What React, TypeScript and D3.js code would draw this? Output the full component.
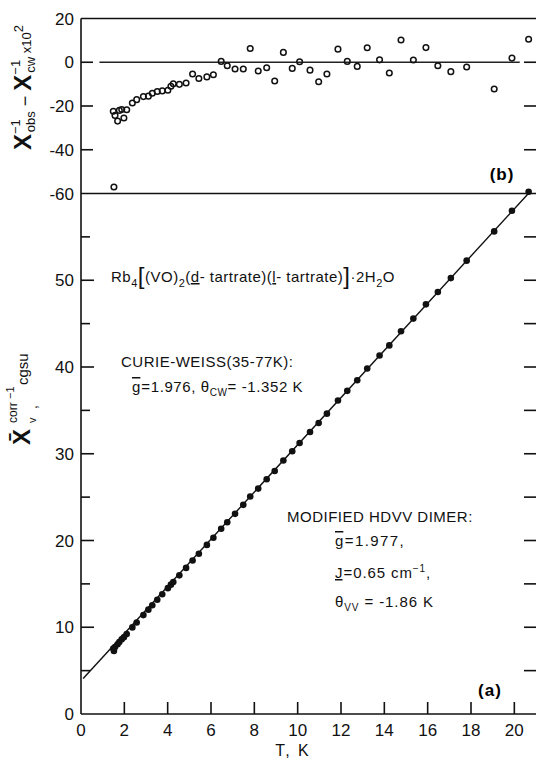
import * as d3 from "d3";

// temperature of each measurement (K)
const tempK = [1.49, 1.52, 1.57, 1.69, 1.77, 1.88, 1.98, 2.11, 2.37, 2.57, 2.88, 3.11, 3.29, 3.52, 3.75, 4.01, 4.15, 4.26, 4.54, 4.85, 5.15, 5.44, 5.81, 6.11, 6.47, 6.75, 7.11, 7.49, 7.81, 8.18, 8.57, 8.94, 9.34, 9.75, 10.09, 10.57, 10.97, 11.35, 11.86, 12.29, 12.75, 13.21, 13.78, 14.23, 14.77, 15.34, 15.92, 16.47, 17.07, 17.8, 19.07, 19.89, 20.66];
// (b) residuals, x 10^2
const residual = [-22.4, -57, -24.3, -26.9, -22, -21.6, -25.5, -21.7, -18.6, -17.1, -15.7, -15.5, -14.2, -13.4, -13.1, -12.8, -11, -9.8, -10.1, -9.5, -5.4, -7.4, -6.7, -5.7, 0.4, -1.6, -3.1, -3.1, 6.3, -4, -2.5, -8.6, 4.5, -2.8, 0.2, -3.6, -8.9, -5.4, 6, 0.4, -1.9, 6.6, 1.1, -4.9, 10.2, 1, 6.7, -1.6, -4.3, -2.2, -12.2, 1.9, 10.5];
// (a) inverse susceptibility, cgsu
const chiInv = [7.54, 7.27, 7.73, 8.04, 8.3, 8.61, 8.84, 9.23, 9.98, 10.54, 11.4, 12.03, 12.53, 13.17, 13.8, 14.51, 14.91, 15.22, 15.98, 16.84, 17.7, 18.47, 19.49, 20.31, 21.36, 22.1, 23.07, 24.11, 25.08, 25.98, 27.06, 28.01, 29.23, 30.28, 31.24, 32.51, 33.55, 34.62, 36.13, 37.25, 38.48, 39.82, 41.32, 42.49, 44.12, 45.58, 47.22, 48.64, 50.25, 52.26, 55.63, 58.01, 60.2];

// fitted line in (a)
const fitT = [0.1, 20.65];
const fitChiInv = [4.1, 60];
// zero reference line in (b)
const zeroLineT = [0.85, 20.25];

const xTicks = [0, 2, 4, 6, 8, 10, 12, 14, 16, 18, 20];
const topTicks = [20, 0, -20, -40, -60];
const topInnerTicks = [0, -20, -40];
const bottomLabels = [0, 10, 20, 30, 40, 50];
const bottomMajor = [10, 20, 30, 40, 50];
const bottomMinor = [5, 15, 25, 35, 45, 55];

const W = 536;
const H = 761;
const font = "'Liberation Sans', Arial, sans-serif";

export default function App() {
  const x = d3.scaleLinear().domain([0, 21]).range([81, 536]);
  const yTop = d3.scaleLinear().domain([-60, 20]).range([193.5, 18.5]);
  const yBot = d3.scaleLinear().domain([0, 60]).range([714, 193.5]);

  const line = d3
    .line<number>()
    .x((_, i) => x(fitT[i]))
    .y((d) => yBot(d));

  const x0 = x(0);
  const x1 = x(21);

  return (
    <svg width={W} height={H} style={{ position: "absolute", left: 0, top: 0 }} fontFamily={font}>
      <rect width={W} height={H} fill="#fff" />

      {/* frame */}
      <g stroke="#111" strokeWidth={1.6} fill="none">
        <line x1={x0} x2={x0} y1={yTop(20)} y2={yBot(0)} />
        <line x1={x0} x2={x1} y1={yTop(20)} y2={yTop(20)} />
        <line x1={x0} x2={x1} y1={yBot(60)} y2={yBot(60)} />
        <line x1={x0} x2={x1} y1={yBot(0)} y2={yBot(0)} />
      </g>

      {/* ticks */}
      <g stroke="#111" strokeWidth={1.6}>
        {topInnerTicks.map((t) => (
          <line key={`lt${t}`} x1={x0} x2={x0 + 12} y1={yTop(t)} y2={yTop(t)} />
        ))}
        {bottomMajor.map((t) => (
          <line key={`lb${t}`} x1={x0} x2={x0 + 13} y1={yBot(t)} y2={yBot(t)} />
        ))}
        {bottomMinor.map((t) => (
          <line key={`lm${t}`} x1={x0} x2={x0 + 9} y1={yBot(t)} y2={yBot(t)} />
        ))}
        {topInnerTicks.map((t) => (
          <line key={`rt${t}`} x1={x1} x2={x1 - 12} y1={yTop(t)} y2={yTop(t)} />
        ))}
        {bottomMinor.concat(bottomMajor).map((t) => (
          <line key={`rb${t}`} x1={x1} x2={x1 - 12} y1={yBot(t)} y2={yBot(t)} />
        ))}
        {xTicks.slice(1).map((t) => (
          <line key={`xb${t}`} x1={x(t)} x2={x(t)} y1={yBot(0)} y2={yBot(0) - 12} />
        ))}
      </g>

      {/* tick labels */}
      <g fontSize={17} fill="#111">
        {topTicks.map((t) => (
          <text key={`tl${t}`} x={74} y={yTop(t) + 6} textAnchor="end">
            {t < 0 ? `-${-t}` : t}
          </text>
        ))}
        {bottomLabels.map((t) => (
          <text key={`bl${t}`} x={74} y={yBot(t) + 6} textAnchor="end">
            {t}
          </text>
        ))}
        {xTicks.map((t) => (
          <text key={`xl${t}`} x={x(t)} y={736} textAnchor="middle">
            {t}
          </text>
        ))}
        <text x={293} y={756} fontSize={16} textAnchor="middle" letterSpacing={2}>
          T, K
        </text>
      </g>

      {/* (b) residual panel */}
      <line x1={x(zeroLineT[0])} x2={x(zeroLineT[1])} y1={yTop(0)} y2={yTop(0)} stroke="#222" strokeWidth={1.5} />
      <g fill="none" stroke="#111" strokeWidth={1.5}>
        {tempK.map((t, i) => (
          <circle key={`r${i}`} cx={x(t)} cy={yTop(residual[i])} r={2.8} />
        ))}
      </g>

      {/* (a) inverse susceptibility panel */}
      <path d={line(fitChiInv) || ""} fill="none" stroke="#111" strokeWidth={1.4} />
      <g fill="#111">
        {tempK.map((t, i) => (
          <circle key={`c${i}`} cx={x(t)} cy={yBot(chiInv[i])} r={3.3} />
        ))}
      </g>

      {/* panel tags */}
      <text x={502} y={180} fontSize={17} fontWeight="bold" textAnchor="middle" letterSpacing={1}>(b)</text>
      <text x={490} y={696} fontSize={17} fontWeight="bold" textAnchor="middle" letterSpacing={1}>(a)</text>

      {/* y-axis labels */}
      <text transform="translate(31,150) rotate(-90)" fontSize={13} fill="#111">
        <tspan fontSize={24} fontWeight="bold">X</tspan>
        <tspan dy={-11}>−1</tspan>
        <tspan dx={-13} dy={15}>obs</tspan>
        <tspan dy={-4} fontSize={18}> − </tspan>
        <tspan fontSize={24} fontWeight="bold">X</tspan>
        <tspan dy={-11}>−1</tspan>
        <tspan dx={-13} dy={15}>cw</tspan>
        <tspan dy={-4}> x10</tspan>
        <tspan dy={-8}>2</tspan>
      </text>
      <g transform="translate(30,445) rotate(-90)" fill="#111">
        <text x={0} y={0} fontSize={24} fontWeight="bold">X̄</text>
        <text x={22} y={-13} fontSize={12}>corr</text>
        <text x={46} y={-16} fontSize={11}>−1</text>
        <text x={22} y={6} fontSize={11}>v</text>
        <text x={36} y={7} fontSize={14}>,</text>
        <text x={60} y={-2} fontSize={15}>cgsu</text>
      </g>

      {/* annotations */}
      <g fill="#111" fontSize={15}>
        <text x={111} y={282} letterSpacing={0.5}>
          <tspan>Rb</tspan>
          <tspan dy={5} fontSize={11}>4</tspan>
          <tspan dy={-3} fontSize={24}>[</tspan>
          <tspan dy={-2}>(VO)</tspan>
          <tspan dy={5} fontSize={11}>2</tspan>
          <tspan dy={-5}>(</tspan>
          <tspan textDecoration="underline">d</tspan>
          <tspan>- tartrate)(</tspan>
          <tspan textDecoration="underline">l</tspan>
          <tspan>- tartrate)</tspan>
          <tspan dy={2} fontSize={24}>]</tspan>
          <tspan dy={-2}>·2H</tspan>
          <tspan dy={5} fontSize={11}>2</tspan>
          <tspan dy={-5}>O</tspan>
        </text>

        <text x={121} y={367} letterSpacing={0.5}>CURIE-WEISS(35-77K):</text>
        <text x={132} y={392} letterSpacing={0.6}>
          <tspan textDecoration="underline overline" letterSpacing={0}>g</tspan>
          <tspan dx={1}>=1.976,  θ</tspan>
          <tspan dy={4} fontSize={10}>CW</tspan>
          <tspan dy={-4}>= -1.352 K</tspan>
        </text>

        <text x={287} y={522} letterSpacing={0.5}>MODIFIED HDVV  DIMER:</text>
        <text x={335} y={546} letterSpacing={1.4}>
          <tspan textDecoration="underline overline" letterSpacing={0}>g</tspan>
          <tspan dx={1.5}>=1.977,</tspan>
        </text>
        <text x={335} y={578} letterSpacing={0.9}>
          <tspan textDecoration="underline" letterSpacing={0}>J</tspan>
          <tspan dx={1}>=0.65 cm</tspan>
          <tspan dy={-6} fontSize={10}>−1</tspan>
          <tspan dy={6}>,</tspan>
        </text>
        <text x={335} y={607} letterSpacing={0.9}>
          <tspan>θ</tspan>
          <tspan dy={4} fontSize={10}>VV</tspan>
          <tspan dy={-4}> = -1.86 K</tspan>
        </text>
      </g>
    </svg>
  );
}
